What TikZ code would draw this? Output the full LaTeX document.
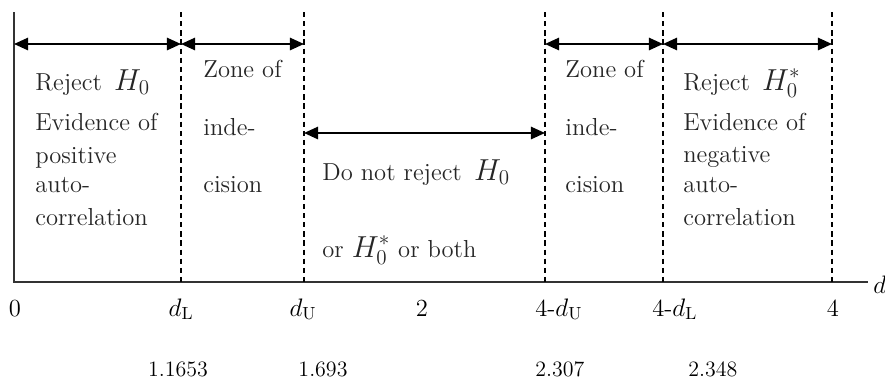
\documentclass[tikz,border=0pt]{standalone}
\usepackage{amsmath}
\usetikzlibrary{arrows.meta, positioning}
\tikzstyle{arrow} = [line width=1.1pt,<->,>={Triangle[length=8pt,width=7pt]}]
\tikzstyle{divider} = [line width=0.8pt, dash pattern=on 3pt off 2.2pt]
\tikzstyle{axis} = [line width=1.1pt, black!80]
\tikzstyle{txt} = [anchor=base west, inner sep=0pt, font=\fontsize{14}{16}\selectfont, text=black!85]
\tikzstyle{tick} = [anchor=base, inner sep=0pt, font=\fontsize{14}{16}\selectfont]
\tikzstyle{value} = [anchor=base, inner sep=0pt, font=\fontsize{12.5}{14}\selectfont]
\newcommand{\hyp}[1]{{\fontsize{17}{18}\selectfont$H_0#1$}}

\begin{document}
\begin{tikzpicture}[x=0.02cm, y=-0.02cm]
\useasboundingbox (0,0) rectangle (885,383);

% Axes
\coordinate (origin) at (14,282);
\coordinate (ytop) at (14,12);
\coordinate (xend) at (868,282);
\draw[axis] (ytop) -- (origin) -- (xend);
\node (dstat) [anchor=west, inner sep=0pt, font=\fontsize{14}{16}\selectfont] at (873,285) {$d$};

% Critical values
\foreach \x/\n in {181/dL, 304/dU, 545/uU, 663/uL, 832/four} {
  \coordinate (\n-t) at (\x,12);
  \coordinate (\n-b) at (\x,282);
  \coordinate (\n-a) at (\x,44);
  \coordinate (\n-m) at (\x,133);
  \draw[divider] (\n-t) -- (\n-b);
}
\coordinate (origin-a) at (14,44);

% Region arrows
\draw[arrow] (origin-a) -- (dL-a);
\draw[arrow] (dL-a) -- (dU-a);
\draw[arrow] (uU-a) -- (uL-a);
\draw[arrow] (uL-a) -- (four-a);
\draw[arrow] (dU-m) -- (uU-m);

% Reject H0
\node (rejpos) [txt] at (35,90) {Reject\enspace \hyp{}};
\node (evpos) [txt] at (35,130) {Evidence of};
\node (pos) [txt] at (35,163) {positive};
\node (autopos) [txt] at (35,192) {auto-};
\node (corpos) [txt] at (35,225) {correlation};

% Zone of indecision (left)
\node (zoneL) [txt] at (203,77) {Zone of};
\node (indeL) [txt] at (203,135) {inde-};
\node (cisL) [txt] at (203,192) {cision};

% Do not reject
\node (keep) [txt] at (322,180) {Do not reject\enspace \hyp{}};
\node (keepb) [txt] at (322,257) {or \hyp{^*} or both};

% Zone of indecision (right)
\node (zoneR) [txt] at (565,77) {Zone of};
\node (indeR) [txt] at (565,135) {inde-};
\node (cisR) [txt] at (565,192) {cision};

% Reject H0*
\node (rejneg) [txt] at (683,90) {Reject\enspace \hyp{^*}};
\node (evneg) [txt] at (683,130) {Evidence of};
\node (neg) [txt] at (683,162) {negative};
\node (autoneg) [txt] at (683,192) {auto-};
\node (corneg) [txt] at (683,225) {correlation};

% Tick labels
\node (t0) [tick] at (15,316) {0};
\node (tdL) [tick] at (181,316) {$d_{\mathrm{L}}$};
\node (tdU) [tick] at (303,316) {$d_{\mathrm{U}}$};
\node (t2) [tick] at (422,316) {2};
\node (tuU) [tick, anchor=base west] at (535,316) {4-$d_{\mathrm{U}}$};
\node (tuL) [tick, anchor=base west] at (652,316) {4-$d_{\mathrm{L}}$};
\node (t4) [tick] at (833,316) {4};

% Values
\node (vdL) [value] at (178,376) {1.1653};
\node (vdU) [value] at (323,376) {1.693};
\node (vuU) [value, anchor=base west] at (535,376) {2.307};
\node (vuL) [value, anchor=base west] at (688,376) {2.348};

\end{tikzpicture}
\end{document}
